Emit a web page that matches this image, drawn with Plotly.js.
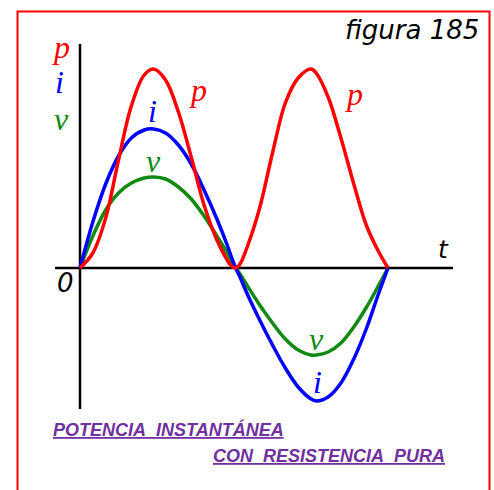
<!DOCTYPE html>
<html>
<head>
<meta charset="utf-8">
<script src="https://cdn.plot.ly/plotly-3.0.1.min.js"></script>
<style>
  html, body { margin: 0; padding: 0; background: #fff; }
  #chart { width: 494px; height: 490px; }
</style>
</head>
<body>
<div id="chart"></div>
<script>
// Phase angle (degrees) over one full cycle
const phaseDeg = [0, 15, 30, 45, 60, 75, 86, 100, 115, 130, 145, 160, 172, 177, 182,
                  187, 195, 210, 225, 240, 255, 270, 276, 290, 305, 320, 335, 348, 360];

// Instantaneous power p (always positive)
const powerP   = [0, 0.15, 0.50, 1.08, 1.62, 1.93, 1.99, 1.88, 1.56, 1.11, 0.63, 0.28, 0.08, 0.02, 0,
                  0.04, 0.20, 0.60, 1.15, 1.65, 1.90, 1.99, 1.95, 1.71, 1.30, 0.84, 0.42, 0.18, 0];

// Current i
const currentI = [0, 0.46, 0.84, 1.12, 1.30, 1.38, 1.39, 1.35, 1.23, 1.04, 0.78, 0.49, 0.23, 0.11, 0,
                  -0.09, -0.25, -0.52, -0.77, -1.00, -1.19, -1.31, -1.33, -1.29, -1.15, -0.91, -0.60, -0.28, 0];

// Voltage v
const voltageV = [0, 0.32, 0.58, 0.75, 0.85, 0.90, 0.91, 0.89, 0.81, 0.69, 0.52, 0.32, 0.15, 0.07, 0,
                  -0.06, -0.17, -0.37, -0.55, -0.71, -0.82, -0.87, -0.87, -0.84, -0.75, -0.59, -0.39, -0.19, 0];

const seriesNames = ['v', 'i', 'p'];
const figureTitle = 'figura 185';
const captionLines = ['POTENCIA\u00a0\u00a0INSTANTÁNEA', 'CON\u00a0\u00a0RESISTENCIA\u00a0\u00a0PURA'];
const axisNames = ['0', 't'];

const RED = '#ff0000', BLUE = '#0000ff', GREEN = '#108a10', PURPLE = '#7030a0';

// pixel helpers (plot area fills the whole page)
const W = 494, H = 490;
const X0 = 80, XS = 308 / 360;   // origin and px per degree
const Y0 = 268, YS = 100;        // origin and px per unit
const dx = px => (px - X0) / XS;
const dy = py => (Y0 - py) / YS;
const px2paper = px => px / W;
const py2paper = py => 1 - py / H;

const traces = [
  { x: phaseDeg, y: voltageV, name: seriesNames[0], mode: 'lines',
    line: { color: GREEN, width: 3.5, shape: 'spline', smoothing: 1 } },
  { x: phaseDeg, y: currentI, name: seriesNames[1], mode: 'lines',
    line: { color: BLUE, width: 3.5, shape: 'spline', smoothing: 1 } },
  { x: phaseDeg, y: powerP, name: seriesNames[2], mode: 'lines',
    line: { color: RED, width: 3.5, shape: 'spline', smoothing: 1 } }
];

const serif = (color) => ({ family: 'Liberation Serif, serif', size: 32, color: color, style: 'italic' });
const sansIt = (size) => ({ family: 'DejaVu Sans, sans-serif', size: size, color: '#000', style: 'italic' });

function label(text, px, py, font, xanchor) {
  return { text: text, xref: 'paper', yref: 'paper', x: px2paper(px), y: py2paper(py),
           xanchor: xanchor || 'center', yanchor: 'middle', showarrow: false, font: font };
}

const captionFont = { family: 'Liberation Sans, Arial, sans-serif', size: 18, color: PURPLE,
                      weight: 'bold', style: 'italic', lineposition: 'under' };

const annotations = [
  label(figureTitle, 481, 30.2, sansIt(26), 'right'),
  // axis legend on the left
  label(seriesNames[2], 61, 47, serif(RED)),
  label(seriesNames[1], 59, 82, serif(BLUE)),
  label(seriesNames[0], 61, 119, serif(GREEN)),
  // curve labels
  label(seriesNames[2], 198, 90, serif(RED)),
  label(seriesNames[1], 152, 111, serif(BLUE)),
  label(seriesNames[0], 153, 161, serif(GREEN)),
  label(seriesNames[2], 354, 94, serif(RED)),
  label(seriesNames[0], 316, 339, serif(GREEN)),
  label(seriesNames[1], 317, 382, serif(BLUE)),
  // axis names
  label(axisNames[0], 65.5, 283, sansIt(26)),
  label(axisNames[1], 443.5, 249.5, sansIt(25)),
  // caption
  label(captionLines[0], 51, 429.5, captionFont, 'left'),
  label(captionLines[1], 211, 456, captionFont, 'left')
];

const shapes = [
  // frame
  { type: 'rect', xref: 'paper', yref: 'paper',
    x0: px2paper(17.5), x1: px2paper(489.5), y0: py2paper(520), y1: py2paper(11.5),
    line: { color: RED, width: 2 }, fillcolor: 'rgba(0,0,0,0)' },
  // vertical axis
  { type: 'line', xref: 'x', yref: 'y', x0: 0, x1: 0, y0: dy(44), y1: dy(409),
    line: { color: '#000', width: 2.5 }, layer: 'below' },
  // horizontal axis
  { type: 'line', xref: 'x', yref: 'y', x0: dx(55), x1: dx(453), y0: 0, y1: 0,
    line: { color: '#000', width: 2.5 }, layer: 'below' }
];

const layout = {
  width: W, height: H,
  margin: { l: 0, r: 0, t: 0, b: 0, pad: 0 },
  paper_bgcolor: '#fff', plot_bgcolor: '#fff',
  showlegend: false,
  xaxis: { range: [dx(0), dx(W)], visible: false, fixedrange: true },
  yaxis: { range: [dy(H), dy(0)], visible: false, fixedrange: true },
  annotations: annotations,
  shapes: shapes
};

Plotly.newPlot('chart', traces, layout, { displayModeBar: false, staticPlot: true });
</script>
</body>
</html>
